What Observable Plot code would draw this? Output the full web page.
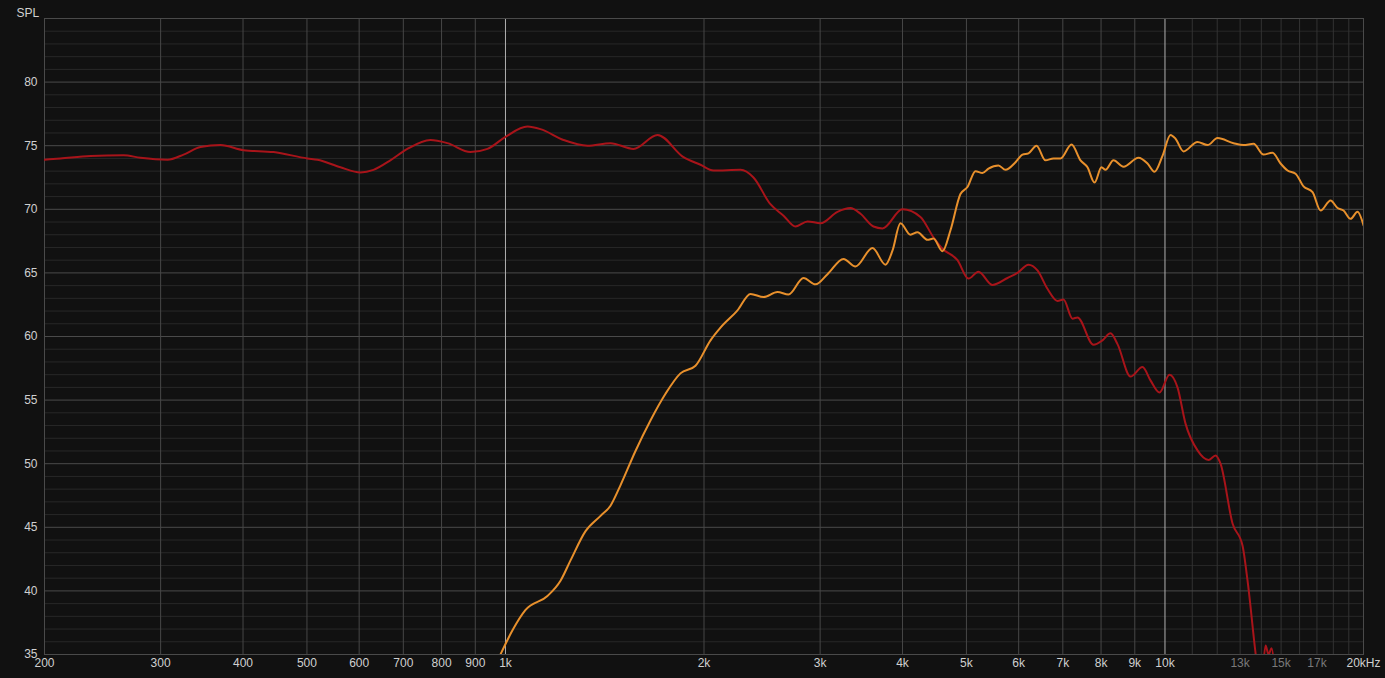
<!DOCTYPE html>
<html><head><meta charset="utf-8">
<script src="https://cdn.jsdelivr.net/npm/d3@7"></script>
<script src="https://cdn.jsdelivr.net/npm/@observablehq/plot@0.6"></script>
<style>html,body{margin:0;padding:0;background:#111111;overflow:hidden}</style>
</head><body><div id="chart"></div>
<script>
// Red curve (woofer-like response)
const redFreq = [200,211.5,234.8,263.5,279.6,307.3,325,344.8,369.8,400.7,444.9,501,518.7,562,602.9,630.8,669,710,769.7,816.7,885,939,1000,1080,1130,1224.7,1331.8,1443,1563.6,1700,1861.8,1975.7,2067,2272,2377,2522,2640,2753,2871,3004,3187,3335,3454,3614,3730,3999,4258,4456,4598,4846,5035,5214,5476,5770,5975,6209,6408,6635,6871,7017,7241,7368,7792,8040,8268,8473,8866,9245,9507,9811,10159,10447,10744,11203,11643,11931,12141,12661,13111,13342,13720,13962,14208,14357,14509,14713];
const redSPL = [73.9,74.0,74.2,74.25,74.05,73.9,74.3,74.9,75.05,74.65,74.5,74.0,73.9,73.3,72.9,73.1,73.85,74.75,75.45,75.2,74.5,74.75,75.7,76.5,76.3,75.45,75.0,75.2,74.75,75.85,74.1,73.5,73.05,73.1,72.5,70.4,69.5,68.65,69.05,68.9,69.8,70.1,69.65,68.65,68.5,70.0,69.4,67.8,66.9,66.0,64.55,65.1,64.05,64.6,65.0,65.65,65.2,63.75,62.8,62.9,61.4,61.5,59.35,59.7,60.25,59.4,56.85,57.6,56.55,55.6,57.0,56.0,53.15,51.05,50.3,50.65,50.0,45.3,43.55,40.8,35.1,32,35.7,35.0,35.5,32];

// Orange curve (tweeter-like response)
const orangeFreq = [972.5,982.7,1024.8,1072.6,1157.8,1211.9,1255,1322.6,1393.7,1443,1494,1574.5,1659,1748.5,1842,1941.6,2045.9,2118.6,2248,2352.8,2461.8,2584.8,2686,2830.8,2952,3078.6,3254.8,3394,3601.8,3768.8,3862,3971,4112,4214,4363.6,4456,4598,4729,4896.6,5018,5160,5287.6,5400,5591.6,5730,5934,6081,6209,6386,6589,6776,6944,7216,7446,7630,7819,8012,8125,8355,8652,9117,9408,9641,9914,10195,10375,10669,11203,11602,12014,12706,13157,13624,14108,14559,14972,15342,15777,16223,16741,17216,17827,18268,18654,19116,19585,20000];
const orangeSPL = [34.5,35.0,36.9,38.5,39.6,40.8,42.4,44.7,45.9,46.7,48.3,51.0,53.4,55.5,57.1,57.7,59.7,60.7,62.05,63.35,63.1,63.5,63.3,64.6,64.1,64.9,66.1,65.5,66.95,65.65,66.75,68.9,68.0,68.2,67.6,67.7,66.7,68.35,71.2,71.75,73.0,72.85,73.2,73.45,73.1,73.7,74.3,74.4,75.0,73.85,74.0,74.0,75.1,73.85,73.3,72.1,73.3,73.1,73.85,73.35,74.05,73.6,72.95,74.2,75.85,75.55,74.55,75.3,75.05,75.6,75.2,75.05,75.15,74.3,74.45,73.6,73.05,72.8,71.8,71.35,69.9,70.7,70.1,69.9,69.25,69.8,68.75];

// Axis ticks and labels
const xTicks = [200,300,400,500,600,700,800,900,1000,2000,3000,4000,5000,6000,7000,8000,9000,10000,13000,15000,17000,20000];
const xLabels = ["200","300","400","500","600","700","800","900","1k","2k","3k","4k","5k","6k","7k","8k","9k","10k","13k","15k","17k","20kHz"];
const xDimLabels = ["13k","15k","17k"];
const yTicks = [35,40,45,50,55,60,65,70,75,80];

// Grid lines
const xGridMajor = [300,400,500,600,700,800,900,2000,3000,4000,5000,6000,7000,8000,9000];
const xGridBright = [1000,10000];
const xGridFine = [11000,12000,13000,14000,15000,16000,17000,18000,19000];
const yGridMajor = [40,45,50,55,60,65,70,75,80];
const yGridMinor = [36,37,38,39,41,42,43,44,46,47,48,49,51,52,53,54,56,57,58,59,61,62,63,64,66,67,68,69,71,72,73,74,76,77,78,79,81,82,83,84];

const redData = redFreq.map((f,i)=>({f, db: redSPL[i]}));
const orangeData = orangeFreq.map((f,i)=>({f, db: orangeSPL[i]}));
const xLabelData = xTicks.map((v,i)=>({v, label: xLabels[i]}));

const font = "'Liberation Sans', Arial, sans-serif";

const chart = Plot.plot({
  width: 1385, height: 678,
  marginLeft: 44, marginRight: 22, marginTop: 18, marginBottom: 24,
  style: {background: "#111111", fontFamily: font, fontSize: "12px", overflow: "visible"},
  x: {type: "log", domain: [200, 20000], axis: null},
  y: {domain: [35, 85], axis: null},
  marks: [
    Plot.ruleY(yGridMinor, {stroke: "#282828"}),
    Plot.ruleX(xGridFine, {stroke: "#333333"}),
    Plot.ruleY(yGridMajor, {stroke: "#4a4a4a"}),
    Plot.ruleX(xGridMajor, {stroke: "#474747"}),
    Plot.ruleX(xGridBright, {stroke: "#b0b0b0"}),
    Plot.frame({stroke: "#4a4a4a"}),
    Plot.line(redData, {x: "f", y: "db", stroke: "#a8141a", strokeWidth: 2, curve: "monotone-x", clip: true}),
    Plot.line(orangeData, {x: "f", y: "db", stroke: "#e8902c", strokeWidth: 2, curve: "monotone-x", clip: true}),
    Plot.text(xLabelData, {x: "v", text: "label", frameAnchor: "bottom", dy: 12,
      fill: d => xDimLabels.includes(d.label) ? "#7a7a7a" : "#d0d0d0"}),
    Plot.text(yTicks, {y: d => d, text: d => String(d), frameAnchor: "left", textAnchor: "end", dx: -7, fill: "#d0d0d0"}),
    Plot.text(["SPL"], {frameAnchor: "top-left", textAnchor: "start", dx: -28, dy: -10, fill: "#d0d0d0"})
  ]
});
document.getElementById("chart").appendChild(chart);
</script>
</body></html>
